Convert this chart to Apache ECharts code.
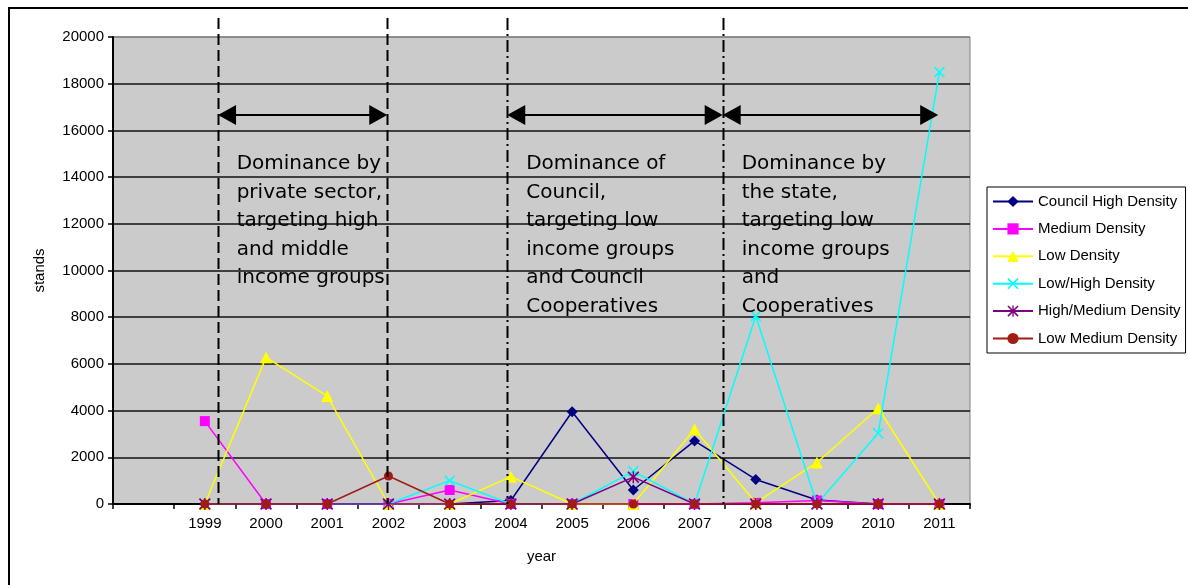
<!DOCTYPE html>
<html><head><meta charset="utf-8">
<script src="https://cdn.jsdelivr.net/npm/echarts@6/dist/echarts.min.js"></script>
<style>html,body{margin:0;padding:0;background:#fff}#c{width:1188px;height:585px}</style>
</head><body><div id="c"></div>
<script>
// ---- data ----
const years = ['1999','2000','2001','2002','2003','2004','2005','2006','2007','2008','2009','2010','2011'];
const categories = [''].concat(years);
const councilHigh   = [0, 0, 0, 0, 0, 150, 3950, 600, 2700, 1050, 170, 0, 0];
const mediumDensity = [3550, 0, 0, 0, 600, 0, 0, 0, 0, 50, 150, 0, 0];
const lowDensity    = [0, 6280, 4620, 0, 0, 1170, 0, 0, 3200, 50, 1780, 4100, 0];
const lowHigh       = [0, 0, 0, 0, 1000, 0, 0, 1400, 0, 8050, 0, 3030, 18500];
const highMedium    = [0, 0, 0, 0, 0, 0, 0, 1150, 0, 0, 0, 0, 0];
const lowMedium     = [0, 0, 0, 1200, 0, 0, 0, 0, 0, 0, 0, 0, 0];
const seriesNames = ['Council High Density','Medium Density','Low Density','Low/High Density','High/Medium Density','Low Medium Density'];
const yMin = 0, yMax = 20000, yInterval = 2000;

// annotation positions (category-index units) and labels
const dividerPos = [1.216, 3.98, 5.94, 9.46];
const dividerDash = ['dash','dash','dashdot','dashdot'];
const arrowSpans = [[1.216, 3.98], [5.94, 9.46], [9.46, 12.98]];
const arrowValue = 16660;
const periodTexts = [
  ['Dominance by','private sector,','targeting high','and middle','income groups'],
  ['Dominance of','Council,','targeting low','income groups','and Council','Cooperatives'],
  ['Dominance by','the state,','targeting low','income groups','and','Cooperatives']
];
const textPos = [1.52, 6.25, 9.77];

// ---- chart ----
const chart = echarts.init(document.getElementById('c'), null, {renderer:'canvas'});
const pad = arr => ['-'].concat(arr);
const colors = ['#000080','#ff00ff','#ffff00','#00ffff','#800080','#a01c14'];
const xPath = 'path://M0,1 L1,0 L5,4 L9,0 L10,1 L6,5 L10,9 L9,10 L5,6 L1,10 L0,9 L4,5 Z';
const starPath = 'path://M0,1 L1,0 L5,4 L9,0 L10,1 L6,5 L10,9 L9,10 L5,6 L1,10 L0,9 L4,5 Z M4.4,0 L5.6,0 L5.6,10 L4.4,10 Z';
const symbols = ['diamond','rect','triangle',xPath,starPath,'circle'];
const symSizes = [11, 10, 12, 11, 12, 9];
const allData = [councilHigh, mediumDensity, lowDensity, lowHigh, highMedium, lowMedium];
const font = "'Liberation Sans', Arial, sans-serif";

const splitColors = [];
for (let v = yMin; v <= yMax; v += yInterval) splitColors.push(v === yMax ? '#808080' : '#111');

chart.setOption({
  animation: false,
  backgroundColor: '#fff',
  grid: {left: 113, right: 218, top: 37, bottom: 81, show: true, backgroundColor: '#cbcbcb', borderColor: '#808080', borderWidth: 1},
  legend: {
    orient: 'vertical', left: 987, top: 187,
    padding: [7, 5, 7, 5], itemGap: 12.4, itemWidth: 40, itemHeight: 14,
    borderColor: '#000', borderWidth: 1, backgroundColor: '#fff',
    textStyle: {fontFamily: font, fontSize: 15, color: '#000', lineHeight: 14},
    data: seriesNames
  },
  xAxis: {
    type: 'category', data: categories, boundaryGap: true,
    name: 'year', nameLocation: 'middle', nameGap: 45,
    nameTextStyle: {fontFamily: font, fontSize: 15, color: '#000'},
    axisLine: {lineStyle: {color: '#000', width: 2}},
    axisTick: {show: true, length: 5, lineStyle: {color: '#000', width: 1.5}},
    axisLabel: {interval: 0, margin: 12, fontFamily: font, fontSize: 15, color: '#000'},
    splitLine: {show: false}
  },
  yAxis: {
    type: 'value', min: yMin, max: yMax, interval: yInterval,
    name: 'stands', nameLocation: 'middle', nameGap: 66, nameRotate: 90,
    nameTextStyle: {fontFamily: font, fontSize: 15, color: '#000'},
    axisLine: {show: true, lineStyle: {color: '#000', width: 2}},
    axisTick: {show: true, length: 5, lineStyle: {color: '#000', width: 1.5}},
    axisLabel: {margin: 9, fontFamily: font, fontSize: 15, color: '#000', formatter: v => String(v)},
    splitLine: {show: true, lineStyle: {color: splitColors, width: 1.5}}
  },
  series: seriesNames.map((n, i) => ({
    name: n, type: 'line', data: pad(allData[i]),
    symbol: symbols[i], symbolSize: symSizes[i], showSymbol: true,
    lineStyle: {color: colors[i], width: 1.5},
    itemStyle: {color: colors[i], borderWidth: 0},
    emphasis: {disabled: true}, z: 2 + i
  }))
});

function xPix(pos) {
  const i = Math.floor(pos);
  const a = chart.convertToPixel({xAxisIndex: 0}, i);
  const b = chart.convertToPixel({xAxisIndex: 0}, i + 1);
  return a + (b - a) * (pos - i);
}
const y0 = chart.convertToPixel({yAxisIndex: 0}, 0);
const gTop = 18;
const ay = chart.convertToPixel({yAxisIndex: 0}, arrowValue);

const graphics = [];
// outer frame
graphics.push({type: 'rect', shape: {x: 9, y: 8, width: 1400, height: 800}, style: {fill: null, stroke: '#000', lineWidth: 2}, z: 0, silent: true});
dividerPos.forEach((p, k) => {
  const x = Math.round(xPix(p)) + 0.5;
  graphics.push({type: 'line', shape: {x1: x, y1: gTop, x2: x, y2: y0},
    style: {stroke: '#000', lineWidth: 2, lineDash: dividerDash[k] === 'dash' ? [11, 5] : [12, 4, 2, 4]}, z: 20, silent: true});
});
arrowSpans.forEach(s => {
  const x1 = xPix(s[0]), x2 = xPix(s[1]);
  const hl = 18, hh = 10;
  graphics.push({type: 'line', shape: {x1: x1 + 4, y1: ay, x2: x2 - 4, y2: ay}, style: {stroke: '#000', lineWidth: 2}, z: 21, silent: true});
  graphics.push({type: 'polygon', shape: {points: [[x1, ay], [x1 + hl, ay - hh], [x1 + hl, ay + hh]]}, style: {fill: '#000'}, z: 21, silent: true});
  graphics.push({type: 'polygon', shape: {points: [[x2, ay], [x2 - hl, ay - hh], [x2 - hl, ay + hh]]}, style: {fill: '#000'}, z: 21, silent: true});
});
periodTexts.forEach((lines, k) => {
  graphics.push({type: 'text', x: xPix(textPos[k]), y: 150, z: 22, silent: true,
    style: {text: lines.join('\n'), fontFamily: "'DejaVu Sans', sans-serif", fontSize: 20, lineHeight: 28.5, fill: '#000', textVerticalAlign: 'top'}});
});
chart.setOption({graphic: graphics});
</script>
</body></html>
